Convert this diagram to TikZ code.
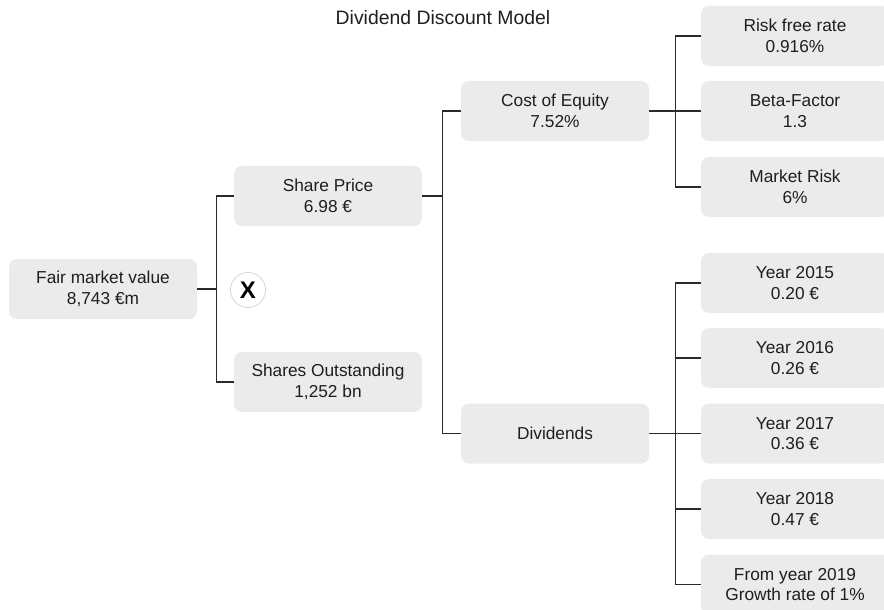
\documentclass[tikz,border=0pt]{standalone}
\usepackage{fontspec}
\setmainfont{Liberation Sans}
\usetikzlibrary{calc}
\definecolor{boxgrey}{HTML}{EBEBEB}
\definecolor{txt}{HTML}{1E1E1E}
\definecolor{wire}{HTML}{2A2A2A}
\tikzset{
  card/.style={fill=boxgrey, draw=none, rounded corners=8pt,
    minimum width=188pt, minimum height=60pt, inner sep=0pt,
    align=center, text=txt, font=\fontsize{17.3}{20.5}\selectfont},
  wirelink/.style={draw=wire, line width=1.2pt},
  timesmark/.style={circle, fill=white, draw=black!20, line width=0.6pt,
    minimum size=35pt, inner sep=0pt, font=\bfseries\fontsize{24}{24}\selectfont},
  heading/.style={text=txt, font=\fontsize{19.4}{23}\selectfont}
}
\begin{document}
\begin{tikzpicture}[x=1pt, y=-1pt]
  \useasboundingbox (0,0) rectangle (884,610);
  \clip (0,0) rectangle (884,610);

  \node[heading] (title) at (443,18) {Dividend Discount Model};

  % main tree
  \node[card] (fmv) at (103,289) {Fair market value\\8,743 €m};
  \node[card] (sp)  at (328,196) {Share Price\\6.98 €};
  \node[card] (so)  at (328,382) {Shares Outstanding\\1,252 bn};
  \node[timesmark] (times) at (248,290) {X};

  \node[card] (coe) at (555,111) {Cost of Equity\\7.52\%};
  \node[card] (div) at (555,433.5) {Dividends};

  % cost of equity inputs
  \node[card] (rf)   at (795,36)  {Risk free rate\\0.916\%};
  \node[card] (beta) at (795,111) {Beta-Factor\\1.3};
  \node[card] (mr)   at (795,187) {Market Risk\\6\%};

  % dividend inputs
  \node[card] (y15) at (795,283)   {Year 2015\\0.20 €};
  \node[card] (y16) at (795,358)   {Year 2016\\0.26 €};
  \node[card] (y17) at (795,433.5) {Year 2017\\0.36 €};
  \node[card] (y18) at (795,509)   {Year 2018\\0.47 €};
  \node[card] (y19) at (795,584.5) {From year 2019\\Growth rate of 1\%};

  % connectors
  \path (fmv.east) -- ++(19,0) coordinate (j1);
  \draw[wirelink] (fmv.east) -- (j1);
  \draw[wirelink] (sp.west) -| (j1) |- (so.west);

  \path (sp.east) -- ++(20,0) coordinate (j2);
  \draw[wirelink] (sp.east) -- (j2);
  \draw[wirelink] (coe.west) -| (j2) |- (div.west);

  \path (coe.east) -- ++(26,0) coordinate (j3);
  \draw[wirelink] (coe.east) -- (beta.west);
  \draw[wirelink] (rf.west) -| (j3) |- (mr.west);

  \path (div.east) -- ++(26,0) coordinate (j4);
  \draw[wirelink] (div.east) -- (y17.west);
  \draw[wirelink] (y15.west) -| (j4) |- (y19.west);
  \draw[wirelink] (j4 |- y16.west) -- (y16.west);
  \draw[wirelink] (j4 |- y18.west) -- (y18.west);
\end{tikzpicture}
\end{document}
